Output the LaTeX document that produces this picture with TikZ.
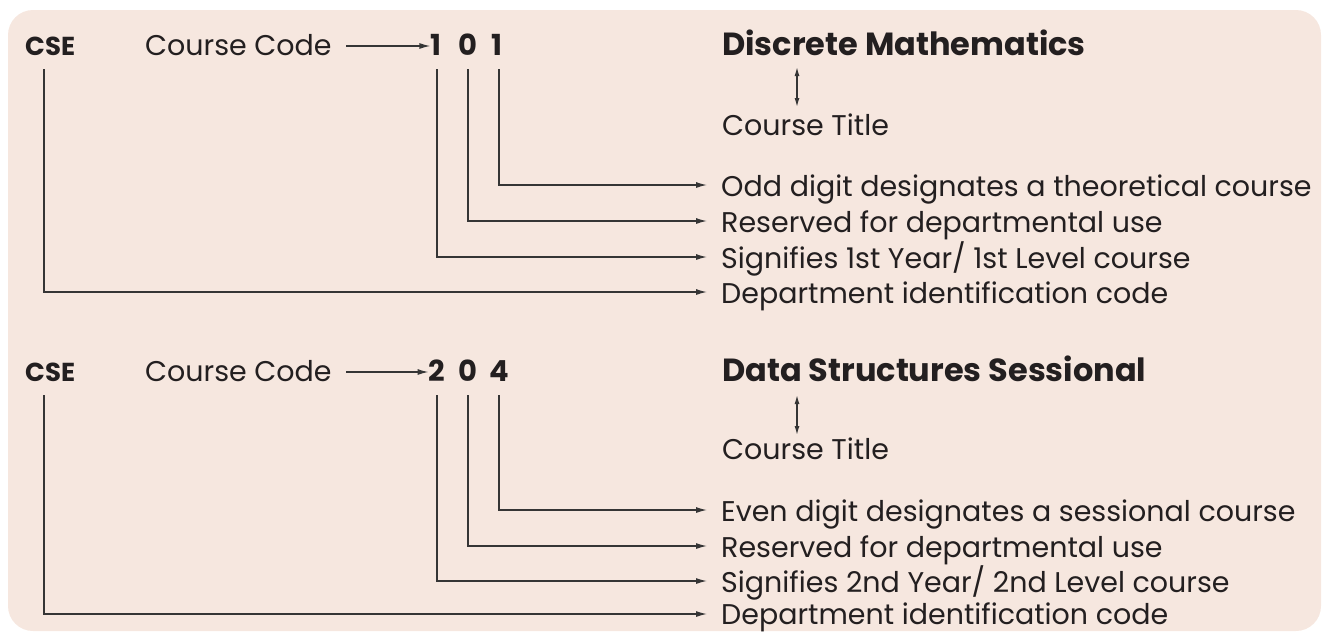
\documentclass[tikz,border=0pt]{standalone}
\usepackage{fontspec}
\setmainfont{Poppins}
\usetikzlibrary{arrows.meta}
\definecolor{bg}{HTML}{F6E7DF}
\definecolor{ln}{HTML}{353535}
\definecolor{tx}{HTML}{231F20}
\begin{document}
\begin{tikzpicture}[x=1pt,y=-1pt,
  lbl/.style={anchor=base west, inner sep=0pt, font=\fontsize{28.5}{32}\selectfont, text=tx},
  code/.style={anchor=base west, inner sep=0pt, font=\fontsize{26}{30}\selectfont\bfseries, text=tx},
  dig/.style={anchor=base, inner sep=0pt, font=\fontsize{29}{32}\selectfont\bfseries, text=tx},
  ttl/.style={anchor=base west, inner sep=0pt, font=\fontsize{32}{36}\selectfont\bfseries, text=tx},
  arr/.style={draw=ln, line width=1.3pt, -{Latex[length=11pt,width=6pt]}},
  darr/.style={draw=ln, line width=1.3pt, {Latex[length=9pt,width=5pt]}-{Latex[length=9pt,width=5pt]}},
  conn/.style={draw=ln, line width=1.3pt, -{Latex[length=11pt,width=6pt]}}
]
\useasboundingbox (0,0) rectangle (1325,632);
\fill[bg, rounded corners=25pt] (8,10) rectangle (1321,631);

% ---------- block 1
\node[code] (cse1) at (25,55) {CSE};
\node[lbl] (cc1) at (145,55) {Course Code};
\node[dig] (a1) at (436,55) {1};
\node[dig] (b1) at (468,55) {0};
\node[dig] (c1) at (497,55) {1};
\coordinate (cs1) at (346,46);
\draw[arr] (cs1) -- (cs1 -| a1.west);
\node[ttl] (t1) at (722,55) {Discrete Mathematics};
\node[lbl] (ct1) at (722,135) {Course Title};
\coordinate (da1) at (797,67);
\draw[darr] (da1) -- (797,107);
\node[lbl] (l11) at (721,196) {Odd digit designates a theoretical course};
\node[lbl] (l12) at (721,232) {Reserved for departmental use};
\node[lbl] (l13) at (721,268) {Signifies 1st Year/ 1st Level course};
\node[lbl] (l14) at (721,303) {Department identification code};
\draw[conn] (499,69) |- ([xshift=-14pt]l11.west |- 0,185);
\draw[conn] (468,69) |- ([xshift=-14pt]l12.west |- 0,221);
\draw[conn] (437,69) |- ([xshift=-14pt]l13.west |- 0,257);
\draw[conn] (44,69) |- ([xshift=-14pt]l14.west |- 0,292);

% ---------- block 2
\node[code] (cse2) at (25,381) {CSE};
\node[lbl] (cc2) at (145,381) {Course Code};
\node[dig] (a2) at (437,381) {2};
\node[dig] (b2) at (468,381) {0};
\node[dig] (c2) at (499,381) {4};
\coordinate (cs2) at (346,372);
\draw[arr] (cs2) -- (cs2 -| a2.west);
\node[ttl] (t2) at (722,381) {Data Structures Sessional};
\node[lbl] (ct2) at (722,459) {Course Title};
\coordinate (da2) at (797,395);
\draw[darr] (da2) -- (797,435);
\node[lbl] (l21) at (721,521) {Even digit designates a sessional course};
\node[lbl] (l22) at (721,557) {Reserved for departmental use};
\node[lbl] (l23) at (721,592) {Signifies 2nd Year/ 2nd Level course};
\node[lbl] (l24) at (721,624) {Department identification code};
\draw[conn] (499,395) |- ([xshift=-14pt]l21.west |- 0,510);
\draw[conn] (468,395) |- ([xshift=-14pt]l22.west |- 0,546);
\draw[conn] (437,395) |- ([xshift=-14pt]l23.west |- 0,581);
\draw[conn] (44,395) |- ([xshift=-14pt]l24.west |- 0,614);
\end{tikzpicture}
\end{document}
